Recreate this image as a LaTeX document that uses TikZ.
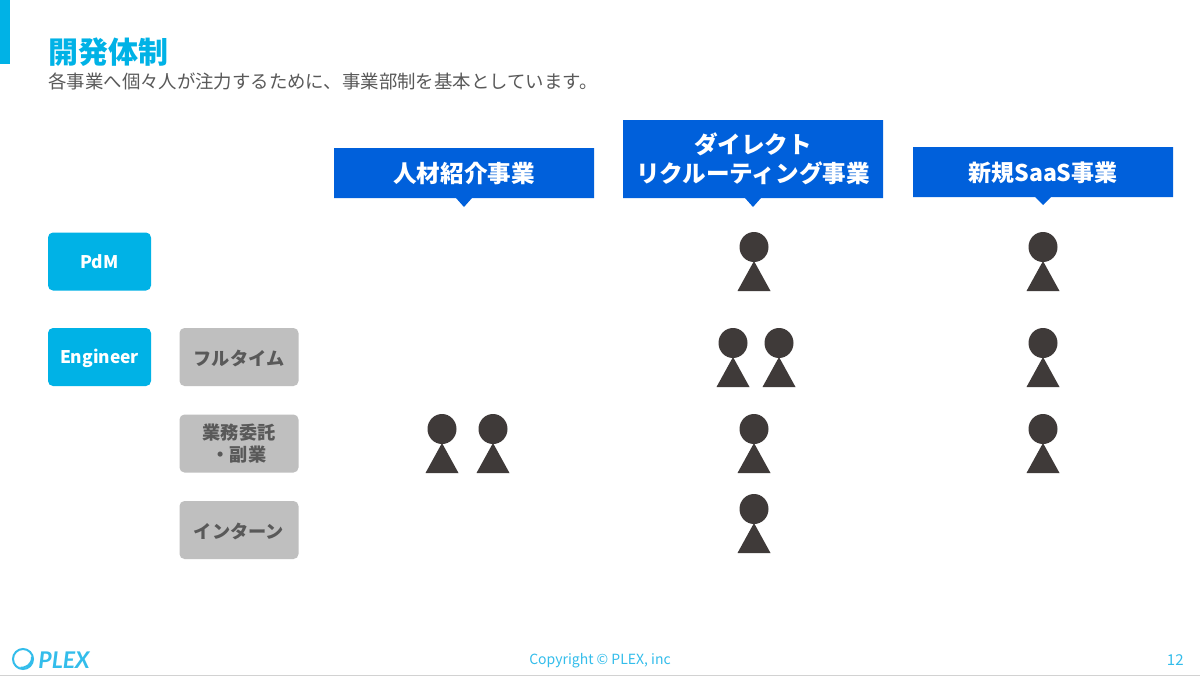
\documentclass[tikz,border=0pt]{standalone}
\usepackage{fontspec}
\setmainfont{Noto Sans CJK JP}
\newfontfamily\plexf{Lato}[BoldItalicFont={Lato Bold Italic}]
\definecolor{cy}{HTML}{00B2E6}
\definecolor{bl}{HTML}{0060DB}
\definecolor{gy}{HTML}{BFBFBF}
\definecolor{dk}{HTML}{3F3A39}
\definecolor{tx}{HTML}{595959}
\definecolor{ft}{HTML}{33BDEB}
\tikzset{
  x=0.5pt,y=-0.5pt,
  rolebox/.style={fill=cy,rounded corners=2.5pt,inner sep=0pt,minimum width=51.5pt,minimum height=29pt},
  kindbox/.style={fill=gy,rounded corners=2.5pt,inner sep=0pt,minimum width=59.5pt,minimum height=29pt},
  roletext/.style={text=white,font=\fontsize{8.7}{11}\selectfont\bfseries,align=center,inner sep=0pt},
  kindtext/.style={text=tx,font=\fontsize{9.1}{11}\selectfont\bfseries,align=center,inner sep=0pt},
  headbox/.style={fill=bl},
  headtext/.style={text=white,font=\fontsize{11.8}{14.5}\selectfont\bfseries,align=center,inner sep=0pt},
  foot/.style={text=ft,font=\fontsize{7}{9}\selectfont,inner sep=0pt},
}
\newcommand{\person}[2]{%
  \fill[dk] (#1,#2+15) ellipse[x radius=14.5,y radius=15];
  \fill[dk] (#1,#2+29) -- (#1+16.5,#2+59) -- (#1-16.5,#2+59) -- cycle;
}
\newcommand{\headshape}[4]{% left, top, bottom, tip y
  \fill[headbox] (#1,#2) -- (#1+260,#2) -- (#1+260,#3) -- (#1+138,#3) -- (#1+130,#4) -- (#1+122,#3) -- (#1,#3) -- cycle;
}
\begin{document}
\begin{tikzpicture}
\useasboundingbox (0,0) rectangle (1200,676);
\fill[white] (0,0) rectangle (1200,676);
\fill[cy] (0,0) rectangle (10,64);
\fill[gy!70] (0,675) rectangle (1200,676);
\node[anchor=west,inner sep=0pt,text=cy,font=\fontsize{15}{16}\selectfont\bfseries] (title) at (48,52) {開発体制};
\node[anchor=west,inner sep=0pt,text=tx,font=\fontsize{9.2}{11}\selectfont] (sub) at (48,81) {各事業へ個々人が注力するために、事業部制を基本としています。};

\headshape{334}{148}{198}{207}
\headshape{623}{120}{198}{207}
\headshape{913}{147}{197}{205}
\node[headtext] (h1) at (464,173.5) {人材紹介事業};
\node[headtext] (h2) at (753,159) {ダイレクト\\リクルーティング事業};
\node[headtext,font=\fontsize{11.5}{14.5}\selectfont\bfseries] (h3) at (1043,172.5) {新規SaaS事業};

\node[rolebox] (pdm) at (99.5,261.5) {};
\node[roletext] (pdml) at (99.5,262) {PdM};
\node[rolebox] (eng) at (99.5,357) {};
\node[roletext] (engl) at (99.5,358) {Engineer};
\node[kindbox] (k1) at (239,357) {};
\node[kindtext] (k1l) at (239,358) {フルタイム};
\node[kindbox] (k2) at (239,443.5) {};
\node[kindtext] (k2l) at (239,444) {業務委託\\・副業};
\node[kindbox] (k3) at (239,530) {};
\node[kindtext] (k3l) at (239,531) {インターン};

\person{754}{232}
\person{1043}{232}
\person{733}{328}
\person{779}{328}
\person{1043}{328}
\person{442}{414}
\person{493}{414}
\person{754}{414}
\person{1043}{414}
\person{754}{494}

% logo
\draw[ft,line width=1pt] (23,659) circle[radius=10];
\fill[ft] (31,657) .. controls (31,664) and (26,667) .. (19,667) .. controls (25,670) and (35,666) .. (33,656) -- cycle;
\node[anchor=west,inner sep=0pt,text=ft,font=\plexf\fontsize{11.5}{13}\selectfont\bfseries\itshape] (plex) at (38,660) {PLEX};
\node[foot] (copy) at (600,660.5) {Copyright © PLEX, inc};
\node[foot,anchor=east,font=\fontsize{7.5}{9}\selectfont] (pg) at (1184,660) {12};
\end{tikzpicture}
\end{document}
